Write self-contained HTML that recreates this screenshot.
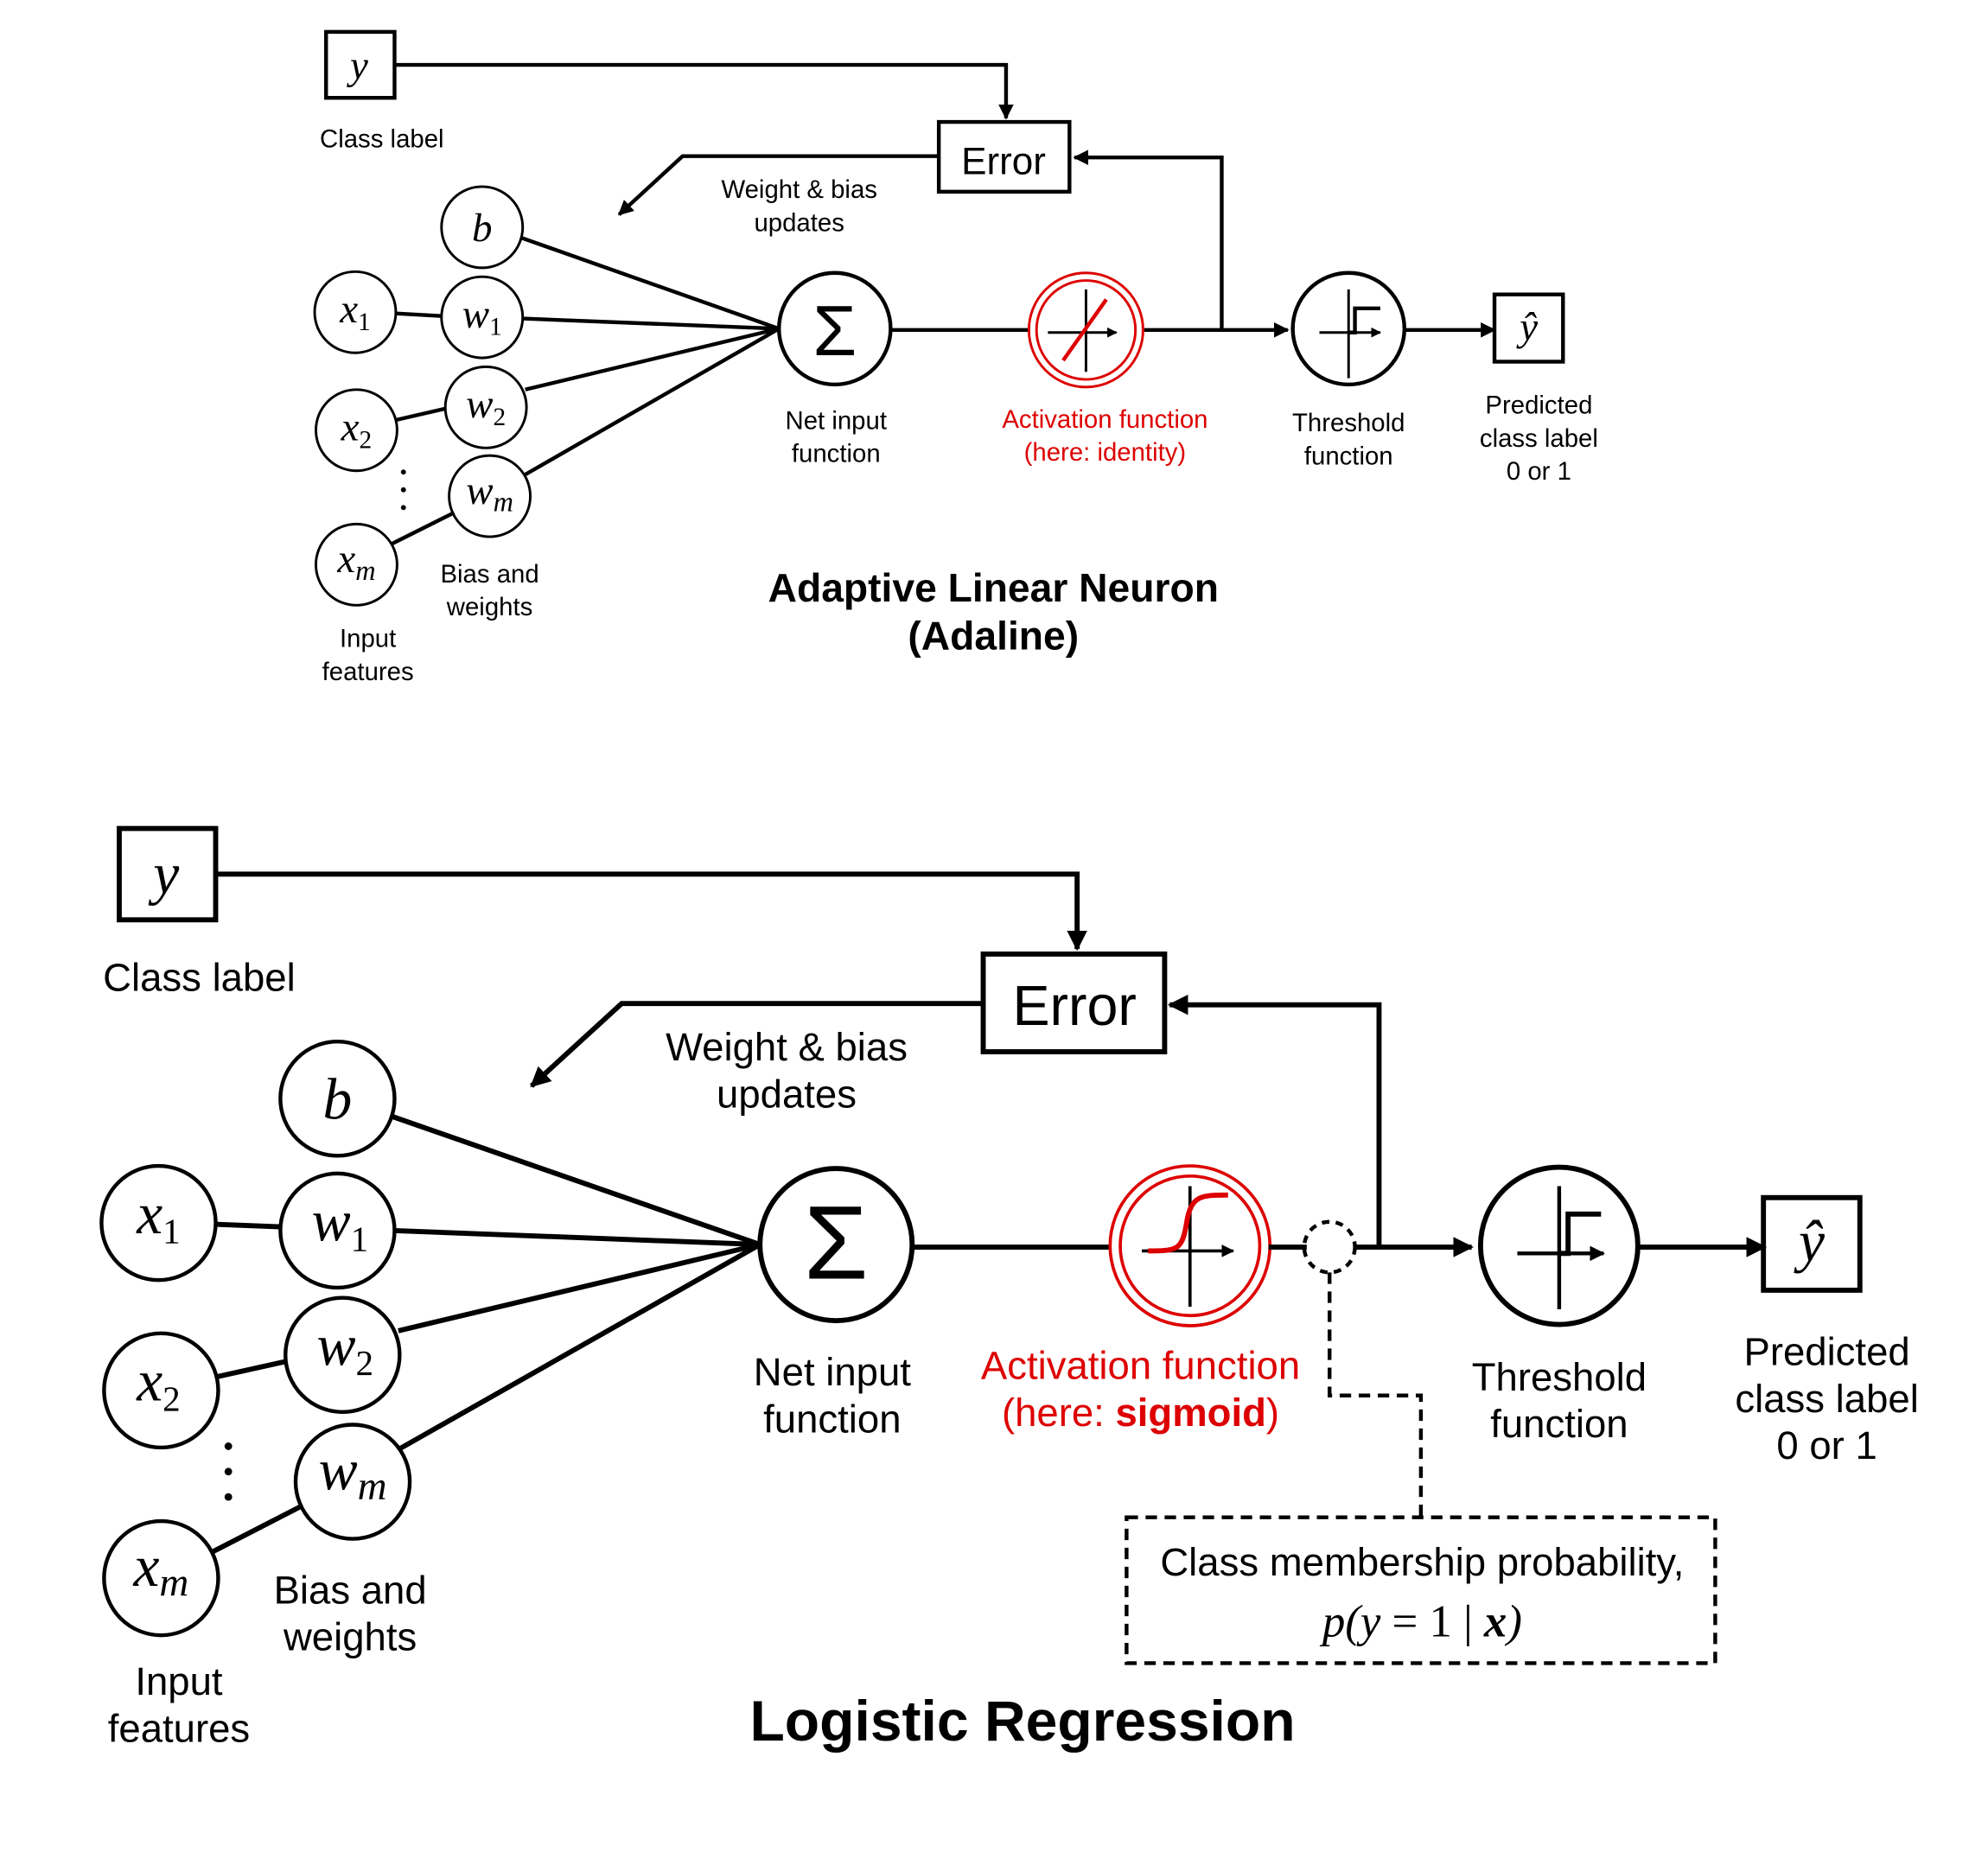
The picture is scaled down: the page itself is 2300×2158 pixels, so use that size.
<!DOCTYPE html>
<html><head><meta charset="utf-8">
<style>
html,body{margin:0;padding:0;background:#fff;}
svg{display:block;}
.s{font-family:"Liberation Sans",sans-serif;}
.m{font-family:"Liberation Serif",serif;font-style:italic;}
</style></head><body>
<svg width="2300" height="2158" viewBox="0 0 1567 1470" xmlns="http://www.w3.org/2000/svg">
<defs>
<marker id="a" viewBox="0 0 10 10" refX="9" refY="5" markerWidth="4" markerHeight="4" orient="auto"><path d="M0,0L10,5L0,10z" fill="#000"/></marker>
</defs>
<g fill="none" stroke="#000">
<!-- TOP -->
<rect x="257" y="25" width="54" height="52" stroke-width="3"/>
<polyline points="311,51 793,51 793,93" stroke-width="3" marker-end="url(#a)"/>
<rect x="740" y="96" width="103" height="55" stroke-width="3"/>
<polyline points="963,260 963,124 847,124" stroke-width="3" marker-end="url(#a)"/>
<polyline points="740,123 538,123 488,169" stroke-width="3" marker-end="url(#a)"/>
<g stroke-width="2">
<circle cx="380" cy="179" r="32"/><circle cx="280" cy="246" r="32"/><circle cx="380" cy="250" r="32"/>
<circle cx="281" cy="339" r="32"/><circle cx="383" cy="321" r="32"/><circle cx="386" cy="391" r="32"/><circle cx="281" cy="445" r="32"/>
</g>
<g stroke-width="3">
<line x1="410" y1="187" x2="614" y2="259"/><line x1="412" y1="251" x2="614" y2="259"/>
<line x1="414" y1="307" x2="614" y2="259"/><line x1="414" y1="374" x2="614" y2="259"/>
<line x1="312" y1="247" x2="348" y2="249"/><line x1="312" y1="331" x2="351" y2="322"/><line x1="308" y1="429" x2="358" y2="404"/>
</g>
<circle cx="658" cy="259" r="44" stroke-width="3"/>
<line x1="702" y1="260" x2="812" y2="260" stroke-width="3"/>
<circle cx="856" cy="260" r="45" stroke="#d00" stroke-width="2"/><circle cx="856" cy="260" r="39" stroke="#d00" stroke-width="2"/>
<line x1="856" y1="228" x2="856" y2="293" stroke-width="2"/><line x1="826" y1="262" x2="880" y2="262" stroke-width="2" marker-end="url(#a)"/>
<line x1="838" y1="284" x2="872" y2="236" stroke="#d00" stroke-width="3"/>
<polyline points="902,260 1015,260" stroke-width="3" marker-end="url(#a)"/>
<circle cx="1063" cy="259" r="44" stroke-width="3"/>
<line x1="1063" y1="228" x2="1063" y2="298" stroke-width="2"/><line x1="1040" y1="262" x2="1088" y2="262" stroke-width="2" marker-end="url(#a)"/>
<polyline points="1063,262 1068,262 1068,243 1088,243" stroke-width="3"/>
<line x1="1107" y1="260" x2="1178" y2="260" stroke-width="3" marker-end="url(#a)"/>
<rect x="1178" y="232" width="54" height="53" stroke-width="3"/>
<!-- BOTTOM -->
<rect x="94" y="653" width="76" height="72" stroke-width="4"/>
<polyline points="170,689 849,689 849,748" stroke-width="4" marker-end="url(#a)"/>
<rect x="775" y="752" width="143" height="77" stroke-width="4"/>
<polyline points="1087,983 1087,792 922,792" stroke-width="4" marker-end="url(#a)"/>
<polyline points="775,791 490,791 419,856" stroke-width="4" marker-end="url(#a)"/>
<g stroke-width="3">
<circle cx="266" cy="866" r="45"/><circle cx="125" cy="964" r="45"/><circle cx="266" cy="970" r="45"/>
<circle cx="127" cy="1096" r="45"/><circle cx="270" cy="1068" r="45"/><circle cx="278" cy="1168" r="45"/><circle cx="127" cy="1244" r="45"/>
</g>
<g stroke-width="4">
<line x1="309" y1="880" x2="599" y2="981"/><line x1="311" y1="970" x2="599" y2="981"/>
<line x1="314" y1="1049" x2="599" y2="981"/><line x1="315" y1="1142" x2="599" y2="981"/>
<line x1="170" y1="965" x2="221" y2="967"/><line x1="172" y1="1085" x2="226" y2="1073"/><line x1="168" y1="1223" x2="238" y2="1187"/>
</g>
<circle cx="659" cy="981" r="60" stroke-width="4"/>
<line x1="720" y1="983" x2="876" y2="983" stroke-width="4"/>
<circle cx="938" cy="982" r="63" stroke="#d00" stroke-width="2.5"/><circle cx="938" cy="982" r="55" stroke="#d00" stroke-width="2.5"/>
<line x1="938" y1="935" x2="938" y2="1030" stroke-width="2.5"/><line x1="900" y1="986" x2="972" y2="986" stroke-width="2.5" marker-end="url(#a)"/>
<path d="M905,986 C930,986 932,985 936,960 C940,942 948,942 968,942" stroke="#d00" stroke-width="4"/>
<line x1="1000" y1="983" x2="1030" y2="983" stroke-width="4"/>
<circle cx="1048" cy="983" r="20" stroke-width="3" stroke-dasharray="6,5"/>
<line x1="1068" y1="983" x2="1160" y2="983" stroke-width="4" marker-end="url(#a)"/>
<circle cx="1229" cy="982" r="62" stroke-width="4"/>
<line x1="1229" y1="935" x2="1229" y2="1032" stroke-width="3"/><line x1="1196" y1="988" x2="1264" y2="988" stroke-width="3" marker-end="url(#a)"/>
<polyline points="1229,988 1236,988 1236,957 1262,957" stroke-width="4"/>
<line x1="1291" y1="983" x2="1391" y2="983" stroke-width="4" marker-end="url(#a)"/>
<rect x="1390" y="944" width="76" height="73" stroke-width="4"/>
<polyline points="1048,1003 1048,1100 1120,1100 1120,1196" stroke-width="3" stroke-dasharray="9,6"/>
<rect x="888" y="1196" width="464" height="115" stroke-width="3" stroke-dasharray="9,6"/>
</g>
<g fill="#000">
<circle cx="318" cy="372" r="2"/><circle cx="318" cy="386" r="2"/><circle cx="318" cy="400" r="2"/>
<circle cx="180" cy="1140" r="3"/><circle cx="180" cy="1160" r="3"/><circle cx="180" cy="1180" r="3"/>
</g>
<!-- TOP TEXT -->
<g class="s" text-anchor="middle" font-size="20">
<text x="301" y="116">Class label</text>
<text x="791" y="137" font-size="30">Error</text>
<text x="630" y="156">Weight &amp; bias</text><text x="630" y="182">updates</text>
<text x="659" y="338">Net input</text><text x="659" y="364">function</text>
<text x="871" y="337" fill="#d00">Activation function</text><text x="871" y="363" fill="#d00">(here: identity)</text>
<text x="1063" y="340">Threshold</text><text x="1063" y="366">function</text>
<text x="1213" y="326">Predicted</text><text x="1213" y="352">class label</text><text x="1213" y="378">0 or 1</text>
<text x="386" y="459">Bias and</text><text x="386" y="485">weights</text>
<text x="290" y="510">Input</text><text x="290" y="536">features</text>
<text x="783" y="474" font-size="31.5" font-weight="bold">Adaptive Linear Neuron</text>
<text x="783" y="512" font-size="31.5" font-weight="bold">(Adaline)</text>
<text x="658" y="280" font-size="56">Σ</text>
</g>
<g class="m" text-anchor="middle" font-size="32">
<text x="283" y="62">y</text>
<text x="380" y="190">b</text>
<text x="280" y="254">x<tspan font-size="20" font-style="normal" dy="6">1</tspan></text>
<text x="380" y="258">w<tspan font-size="20" font-style="normal" dy="6">1</tspan></text>
<text x="281" y="347">x<tspan font-size="20" font-style="normal" dy="6">2</tspan></text>
<text x="383" y="329">w<tspan font-size="20" font-style="normal" dy="6">2</tspan></text>
<text x="386" y="397">w<tspan font-size="22" dy="6">m</tspan></text>
<text x="281" y="451">x<tspan font-size="22" dy="6">m</tspan></text>
<text x="1205" y="268">ŷ</text>
</g>
<!-- BOTTOM TEXT -->
<g class="s" text-anchor="middle" font-size="31">
<text x="157" y="781">Class label</text>
<text x="847" y="808" font-size="44">Error</text>
<text x="620" y="836">Weight &amp; bias</text><text x="620" y="873">updates</text>
<text x="656" y="1092">Net input</text><text x="656" y="1129">function</text>
<text x="899" y="1087" fill="#d00">Activation function</text>
<text x="899" y="1124" fill="#d00">(here: <tspan font-weight="bold">sigmoid</tspan>)</text>
<text x="1229" y="1096">Threshold</text><text x="1229" y="1133">function</text>
<text x="1440" y="1076">Predicted</text><text x="1440" y="1113">class label</text><text x="1440" y="1150">0 or 1</text>
<text x="276" y="1264">Bias and</text><text x="276" y="1301">weights</text>
<text x="141" y="1336">Input</text><text x="141" y="1373">features</text>
<text x="1121" y="1242">Class membership probability,</text>
<text x="806" y="1372" font-size="45" font-weight="bold">Logistic Regression</text>
<text x="659" y="1008" font-size="82">Σ</text>
</g>
<g class="m" text-anchor="middle" font-size="46">
<text x="131" y="704">y</text>
<text x="266" y="882">b</text>
<text x="125" y="972">x<tspan font-size="28" font-style="normal" dy="8">1</tspan></text>
<text x="268" y="978">w<tspan font-size="28" font-style="normal" dy="8">1</tspan></text>
<text x="125" y="1104">x<tspan font-size="28" font-style="normal" dy="8">2</tspan></text>
<text x="272" y="1076">w<tspan font-size="28" font-style="normal" dy="8">2</tspan></text>
<text x="278" y="1174">w<tspan font-size="32" dy="8">m</tspan></text>
<text x="127" y="1250">x<tspan font-size="32" dy="8">m</tspan></text>
<text x="1428" y="994">ŷ</text>
<text x="1121" y="1290" font-size="36">p(y <tspan font-style="normal">= 1 |</tspan> <tspan font-weight="bold">x</tspan>)</text>
</g>
</svg>
</body></html>
